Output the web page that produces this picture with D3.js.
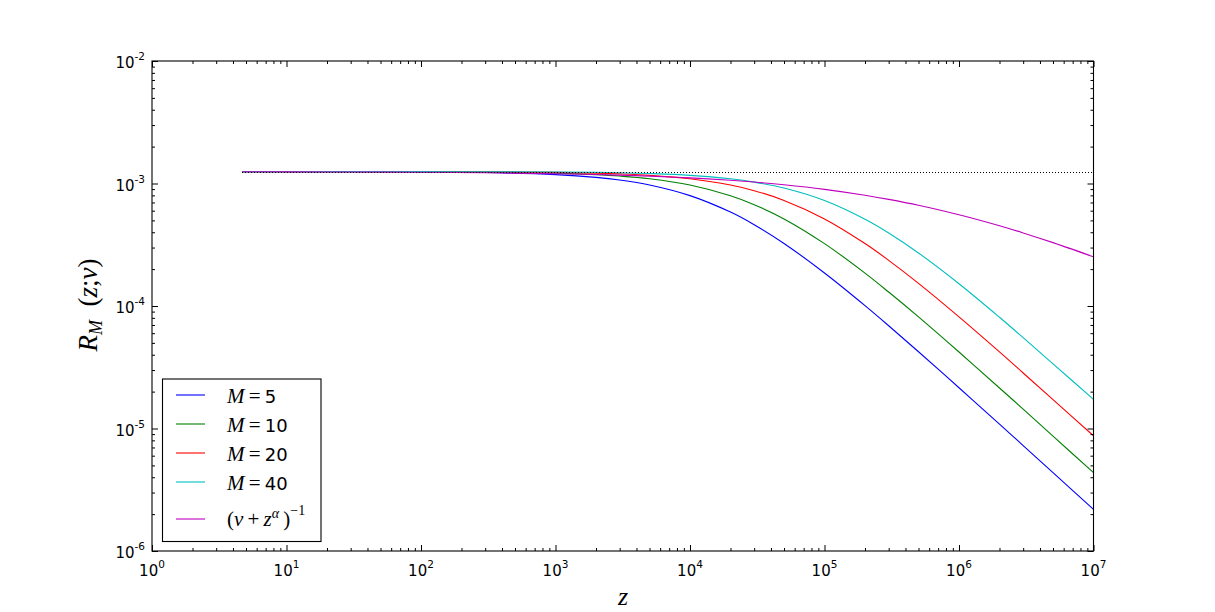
<!DOCTYPE html>
<html><head><meta charset="utf-8">
<script src="https://cdn.jsdelivr.net/npm/d3@7"></script>
<style>
html,body{margin:0;padding:0;background:#fff;}
svg{display:block;}
</style></head>
<body>
<svg id="chart" width="1215" height="612"></svg>
<script>
// Data
const zValues   = [4.7, 10, 30, 100, 300, 1e3, 2e3, 3e3, 5e3, 1e4, 2e4, 3e4, 5e4, 1e5, 2e5, 3e5, 5e5, 1e6, 2e6, 3e6, 5e6, 1e7];
const seriesM5  = [1.250e-3, 1.250e-3, 1.249e-3, 1.245e-3, 1.229e-3, 1.182e-3, 1.122e-3, 1.067e-3, 9.72e-4, 7.96e-4, 5.84e-4, 4.61e-4, 3.24e-4, 1.86e-4, 1.007e-4, 6.9e-5, 4.23e-5, 2.15e-5, 1.085e-5, 7.26e-6, 4.36e-6, 2.19e-6];
const seriesM10 = [1.250e-3, 1.250e-3, 1.249e-3, 1.247e-3, 1.239e-3, 1.215e-3, 1.182e-3, 1.151e-3, 1.093e-3, 9.72e-4, 7.94e-4, 6.72e-4, 5.14e-4, 3.23e-4, 1.856e-4, 1.30e-4, 8.15e-5, 4.21e-5, 2.14e-5, 1.44e-5, 8.66e-6, 4.36e-6];
const seriesM20 = [1.250e-3, 1.250e-3, 1.250e-3, 1.248e-3, 1.245e-3, 1.232e-3, 1.215e-3, 1.198e-3, 1.166e-3, 1.093e-3, 9.72e-4, 8.74e-4, 7.28e-4, 5.14e-4, 3.235e-4, 2.36e-4, 1.532e-4, 8.16e-5, 4.22e-5, 2.84e-5, 1.72e-5, 8.73e-6];
const seriesM40 = [1.250e-3, 1.250e-3, 1.250e-3, 1.249e-3, 1.248e-3, 1.241e-3, 1.232e-3, 1.224e-3, 1.206e-3, 1.166e-3, 1.092e-3, 1.027e-3, 9.18e-4, 7.26e-4, 5.11e-4, 3.95e-4, 2.71e-4, 1.52e-4, 8.09e-5, 5.51e-5, 3.37e-5, 1.73e-5];
const seriesPow = [1.247e-3, 1.245e-3, 1.2415e-3, 1.235e-3, 1.2235e-3, 1.2025e-3, 1.1838e-3, 1.170e-3, 1.1485e-3, 1.111e-3, 1.0622e-3, 1.028e-3, 9.77e-4, 8.96e-4, 8.02e-4, 7.42e-4, 6.64e-4, 5.56e-4, 4.52e-4, 3.95e-4, 3.29e-4, 2.52e-4];
const asymptote = 1.24e-3;
const asymptoteRange = [4.7, 1e7];
const xDomain = [1, 1e7];
const yDomain = [1e-6, 1e-2];
const xTickExponents = [0, 1, 2, 3, 4, 5, 6, 7];
const yTickExponents = [-6, -5, -4, -3, -2];
const legendMValues = ["5", "10", "20", "40"];

const colors = ["#0000ff", "#008000", "#ff0000", "#00bfbf", "#bf00bf"];
const seriesValues = [seriesM5, seriesM10, seriesM20, seriesM40, seriesPow];
const series = seriesValues.map((v, i) => ({
  M: i < legendMValues.length ? legendMValues[i] : null,
  color: colors[i], values: v
}));

const L = 152, T = 61, R = 1093.5, B = 551;
const svg = d3.select("#chart");
svg.append("rect").attr("width", 1215).attr("height", 612).attr("fill", "#fff");

const x = d3.scaleLog().domain(xDomain).range([L, R]);
const y = d3.scaleLog().domain(yDomain).range([B, T]);

const g = svg.append("g");

svg.append("clipPath").attr("id", "clip").append("rect")
  .attr("x", L).attr("y", T).attr("width", R - L).attr("height", B - T);

const line = d3.line()
  .x(d => x(d[0])).y(d => y(d[1]))
  .curve(d3.curveCatmullRom.alpha(0.5));

const plot = g.append("g").attr("clip-path", "url(#clip)");
series.forEach(s => {
  plot.append("path")
    .datum(zValues.map((z, i) => [z, s.values[i]]))
    .attr("d", line)
    .attr("fill", "none")
    .attr("stroke", s.color)
    .attr("stroke-width", 1.1);
});
plot.append("line")
  .attr("x1", x(asymptoteRange[0])).attr("x2", x(asymptoteRange[1]))
  .attr("y1", y(asymptote)).attr("y2", y(asymptote))
  .attr("stroke", "#000").attr("stroke-width", 1)
  .attr("shape-rendering", "crispEdges")
  .attr("stroke-dasharray", "1,2");

const xMinor = [];
for (let d = 0; d < 7; d++) for (let k = 2; k <= 9; k++) xMinor.push(k * Math.pow(10, d));
const yMinor = [];
for (let d = -6; d < -2; d++) for (let k = 2; k <= 9; k++) yMinor.push(k * Math.pow(10, d));
const xMajor = xTickExponents.map(e => Math.pow(10, e));
const yMajor = yTickExponents.map(e => Math.pow(10, e));

function ticks(axisGen, vals, size, transform) {
  const a = g.append("g").attr("transform", transform)
    .call(axisGen.tickValues(vals).tickSize(size).tickFormat(""));
  a.select(".domain").remove();
  a.selectAll("line").attr("stroke", "#000").attr("stroke-width", 1);
  return a;
}
ticks(d3.axisBottom(x), xMajor, -6, `translate(0,${B})`);
ticks(d3.axisBottom(x), xMinor, -3, `translate(0,${B})`);
ticks(d3.axisTop(x), xMajor, -6, `translate(0,${T})`);
ticks(d3.axisTop(x), xMinor, -3, `translate(0,${T})`);
ticks(d3.axisLeft(y), yMajor, -6, `translate(${L},0)`);
ticks(d3.axisLeft(y), yMinor, -3, `translate(${L},0)`);
ticks(d3.axisRight(y), yMajor, -6, `translate(${R},0)`);
ticks(d3.axisRight(y), yMinor, -3, `translate(${R},0)`);

g.append("rect").attr("x", L).attr("y", T).attr("width", R - L).attr("height", B - T)
  .attr("fill", "none").attr("stroke", "#000").attr("stroke-width", 1.1);

const tl = g.append("g").attr("font-family", "DejaVu Sans, sans-serif").attr("fill", "#000");
xTickExponents.forEach(e => {
  const t = tl.append("text").attr("x", x(Math.pow(10, e))).attr("y", 576)
    .attr("text-anchor", "middle").attr("font-size", 15);
  t.append("tspan").text("10");
  t.append("tspan").attr("font-size", 10.5).attr("dy", -8).text(String(e));
});
yTickExponents.forEach(e => {
  const t = tl.append("text").attr("x", 145).attr("y", y(Math.pow(10, e)) + 7)
    .attr("text-anchor", "end").attr("font-size", 15);
  t.append("tspan").text("10");
  t.append("tspan").attr("font-size", 10.5).attr("dy", -8).text(String(e));
});

const serif = "Liberation Serif, DejaVu Serif, serif";
g.append("text").attr("x", 623).attr("y", 605).attr("text-anchor", "middle")
  .attr("font-family", serif).attr("font-style", "italic").attr("font-size", 26).text("z");

const yl = g.append("text")
  .attr("transform", "translate(97,305) rotate(-90)")
  .attr("text-anchor", "middle").attr("font-family", serif).attr("font-size", 27);
yl.append("tspan").attr("font-style", "italic").text("R");
yl.append("tspan").attr("font-style", "italic").attr("font-size", 18).attr("dy", 5).text("M");
yl.append("tspan").attr("dy", -5).text("\u2002(");
yl.append("tspan").attr("font-style", "italic").text("z");
yl.append("tspan").text(";");
yl.append("tspan").attr("font-style", "italic").text("\u03bd");
yl.append("tspan").text(")");

const lg = g.append("g");
lg.append("rect").attr("x", 162.5).attr("y", 379).attr("width", 158.5).attr("height", 162.5)
  .attr("fill", "#fff").attr("stroke", "#000").attr("stroke-width", 1.1);
const rowY = [395, 424, 453, 482, 519];
series.forEach((s, i) => {
  const cy = rowY[i];
  lg.append("line").attr("x1", 176).attr("x2", 205).attr("y1", cy).attr("y2", cy)
    .attr("stroke", s.color).attr("stroke-width", 1.1);
  if (s.M !== null) {
    const t = lg.append("text").attr("x", 227).attr("y", cy + 8).attr("font-size", 21);
    t.append("tspan").attr("font-family", serif).attr("font-style", "italic").text("M");
    t.append("tspan").attr("font-family", serif).text("\u2009=\u2009");
    t.append("tspan").attr("font-family", "DejaVu Sans, sans-serif").attr("font-size", 18).text(s.M);
  } else {
    const t = lg.append("text").attr("x", 227).attr("y", cy + 7).attr("font-family", serif).attr("font-size", 21);
    t.append("tspan").text("(");
    t.append("tspan").attr("font-style", "italic").text("\u03bd");
    t.append("tspan").text("\u2009+\u2009");
    t.append("tspan").attr("font-style", "italic").text("z");
    t.append("tspan").attr("font-style", "italic").attr("font-size", 14).attr("dy", -8).text("\u03b1");
    t.append("tspan").attr("dy", 8).text("\u2009)");
    t.append("tspan").attr("font-size", 14).attr("dy", -11).text("\u22121");
  }
});
</script>
</body></html>
